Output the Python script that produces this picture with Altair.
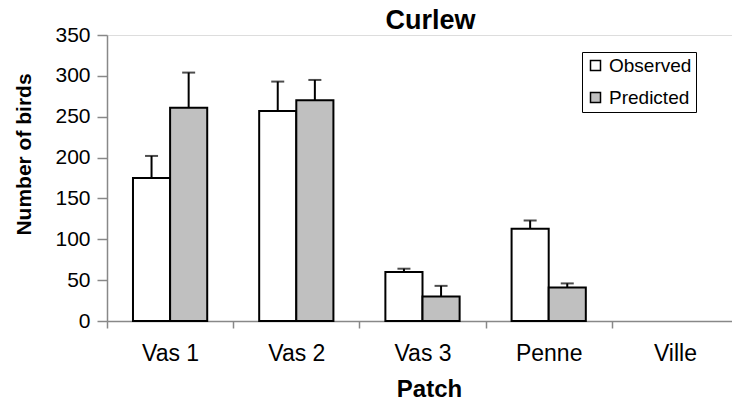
import altair as alt
import pandas as pd

# Curlew counts per patch: observed vs model-predicted, with upper error bars
patches = ["Vas 1", "Vas 2", "Vas 3", "Penne", "Ville"]
series_names = ["Observed", "Predicted"]
observed = [175, 257, 60, 113, None]
observed_err = [27, 36, 4, 10, None]
predicted = [261, 270, 30, 41, None]
predicted_err = [43, 25, 13, 5, None]
y_ticks = [0, 50, 100, 150, 200, 250, 300, 350]

rows = []
for i, patch in enumerate(patches):
    for name, vals, errs in (("Observed", observed, observed_err),
                             ("Predicted", predicted, predicted_err)):
        if vals[i] is None:
            continue
        rows.append({"patch": patch, "series": name,
                     "birds": vals[i], "upper": vals[i] + errs[i]})
df = pd.DataFrame(rows)

FONT = "Liberation Sans"

x_enc = alt.X(
    "patch:N",
    scale=alt.Scale(domain=patches, range=[0, 631], paddingInner=0, paddingOuter=0),
    axis=alt.Axis(
        title="Patch", labelAngle=0, tickBand="extent", tickSize=7, tickWidth=1.5,
        domainWidth=1.5, labelFontSize=23, labelPadding=14, labelFont=FONT,
        titleFont=FONT, titleFontSize=24, titleFontWeight="bold",
        titleX=322, titleY=56, titleBaseline="top", titleAnchor="start",
        titleAlign="center",
    ),
)
off_enc = alt.XOffset(
    "series:N",
    scale=alt.Scale(domain=series_names, paddingInner=0, paddingOuter=0.7),
)
y_enc = alt.Y(
    "birds:Q",
    scale=alt.Scale(domain=[0, 350], nice=False),
    axis=alt.Axis(
        title="Number of birds", values=y_ticks, grid=False, tickSize=10,
        tickWidth=1.5, domainWidth=1.5, labelFontSize=21, labelPadding=7,
        labelFont=FONT, titleFont=FONT, titleFontSize=21, titleFontWeight="bold",
        titleAngle=270, titleX=-83, titleY=119, titleBaseline="middle",
        titleAlign="center", titleAnchor="start",
    ),
)

bars = alt.Chart(df).mark_bar(stroke="black", strokeWidth=2).encode(
    x=x_enc,
    xOffset=off_enc,
    y=y_enc,
    color=alt.Color(
        "series:N",
        scale=alt.Scale(domain=series_names, range=["white", "#c0c0c0"]),
        legend=alt.Legend(
            title=None, orient="none", legendX=475, legendY=17,
            symbolType="square", symbolSize=100, symbolStrokeColor="black",
            symbolStrokeWidth=1.5, labelFontSize=19, labelFont=FONT,
            labelOffset=4, rowPadding=12, padding=4, strokeColor="black",
            fillColor="white",
        ),
    ),
)

err_lines = alt.Chart(df).mark_rule(color="black", strokeWidth=2).encode(
    x=x_enc, xOffset=off_enc, y=y_enc, y2="upper:Q",
)

err_caps = alt.Chart(df).mark_tick(color="black", thickness=2, size=13).encode(
    x=x_enc, xOffset=off_enc, y=alt.Y("upper:Q", scale=alt.Scale(domain=[0, 350], nice=False)),
)

chart = (
    alt.layer(err_lines, bars, err_caps)
    .properties(
        width=625, height=286,
        title=alt.TitleParams("Curlew", font=FONT, fontSize=27, fontWeight="bold",
                              anchor="middle", dx=11, dy=17, offset=6),
        autosize=alt.AutoSizeParams(type="none"),
        padding={"left": 107, "top": 35, "right": 0, "bottom": 80},
    )
    .configure_view(stroke=None)
    .configure_axis(domainColor="black", tickColor="black", labelColor="black",
                    titleColor="black")
    .configure(background="white")
)

chart.save("out.html", embed_options={"renderer": "svg", "actions": False})
